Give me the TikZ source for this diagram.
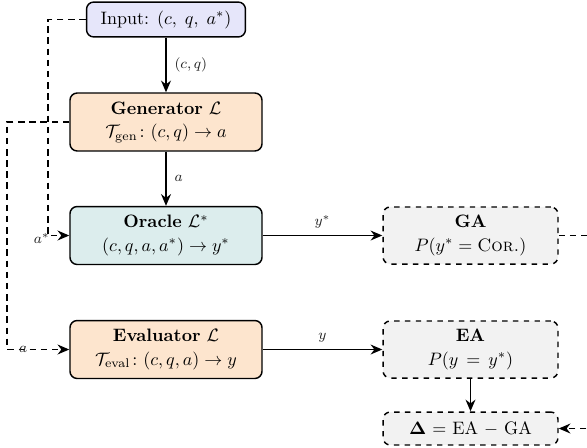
\documentclass[tikz,border=0pt]{standalone}
\usepackage{amsmath,amssymb,bm}
\usetikzlibrary{arrows.meta}
\definecolor{inputfill}{HTML}{E6E6FA}
\definecolor{llmfill}{HTML}{FDE5CE}
\definecolor{oraclefill}{HTML}{DCEDED}
\definecolor{metricfill}{HTML}{F2F2F2}
\tikzset{
  box/.style={draw=black, line width=0.8pt, rounded corners=4pt, align=center, inner sep=0pt},
  inbox/.style={box, fill=inputfill, minimum width=88.3pt, minimum height=19.4pt},
  llmbox/.style={box, fill=llmfill, minimum width=106.7pt, minimum height=32.2pt},
  orbox/.style={box, fill=oraclefill, minimum width=106.7pt, minimum height=32.2pt},
  metbox/.style={box, dashed, fill=metricfill, minimum width=97.2pt, minimum height=31.7pt},
  delbox/.style={box, dashed, fill=metricfill, minimum width=97.2pt, minimum height=18.3pt},
  conn/.style={line width=0.8pt, -{Stealth[length=6.5pt,width=5.5pt]}},
  dconn/.style={conn, dash pattern=on 3.6pt off 2.6pt},
  elab/.style={font=\footnotesize, text=black!85}
}
\begin{document}
\begin{tikzpicture}[x=0.5556pt, y=-0.5556pt]
\useasboundingbox (0,0) rectangle (587,447);
\node[inbox] (in) at (166,19.5) {Input: $(c,\;q,\;a^{*})$};
\node[llmbox] (gen) at (166,122) {\textbf{Generator} $\mathcal{L}$\\[1pt] $\mathcal{T}_{\mathrm{gen}}\colon (c,q)\rightarrow a$};
\node[orbox] (orc) at (166,235.5) {\textbf{Oracle} $\mathcal{L}^{*}$\\[1pt] $(c,q,a,a^{*})\rightarrow y^{*}$};
\node[llmbox] (eva) at (166,349.5) {\textbf{Evaluator} $\mathcal{L}$\\[1pt] $\mathcal{T}_{\mathrm{eval}}\colon (c,q,a)\rightarrow y$};
\node[metbox] (ga) at (470.5,235.5) {\textbf{GA}\\[1pt] $P(y^{*}=\textsc{Cor.})$};
\node[metbox] (ea) at (470.5,349.5) {\textbf{EA}\\[1pt] $P(y\,=\,y^{*})$};
\node[delbox] (dl) at (470.5,428.5) {$\bm{\Delta}$ = EA $-$ GA};

\coordinate (c1) at (48,19.5);
\coordinate (c2) at (48,235.5);
\coordinate (c3) at (7,122);
\coordinate (c4) at (7,349.5);
\coordinate (c5) at (610,235.5);
\coordinate (c6) at (610,428.5);

\draw[conn] (in) -- node[elab, right, xshift=1pt] {$(c,q)$} (gen);
\draw[conn] (gen) -- node[elab, right, xshift=1pt] {$a$} (orc);
\draw[conn] (orc) -- node[elab, above] {$y^{*}$} (ga);
\draw[conn] (eva) -- node[elab, above] {$y$} (ea);
\draw[conn] (ea) -- (dl);

\draw[dconn] (in.west) -- (c1) -- (c2) -- (orc.west);
\node[elab, anchor=east] (lastar) at ([xshift=4.5pt,yshift=-1.5pt]c2) {$a^{*}$};
\draw[dconn] (gen.west) -- (c3) -- (c4) -- node[elab, pos=0.26] (la) {$a$} (eva.west);
\draw[dconn] (ga.east) -- (c5) -- (c6) -- (dl.east);
\end{tikzpicture}
\end{document}
